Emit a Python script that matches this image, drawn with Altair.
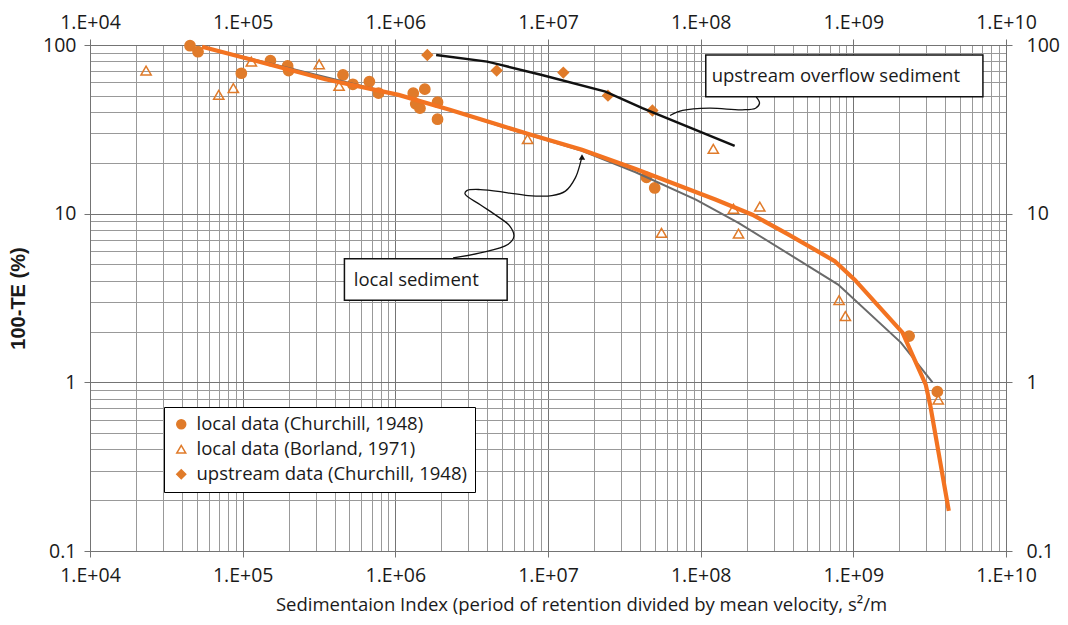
import altair as alt
import pandas as pd

# ---------------- data ----------------
series_names = [
    "local data (Churchill, 1948)",
    "local data (Borland, 1971)",
    "upstream data (Churchill, 1948)",
]

churchill_x = [45200, 51000, 98000, 152000, 197000, 200000, 454000, 527000, 676000, 776000,
               1.31e6, 1.56e6, 1.36e6, 1.45e6, 1.89e6, 1.89e6, 4.42e7, 5.0e7, 2.32e9, 3.55e9]
churchill_y = [99, 91.2, 68, 80.7, 75.2, 70.5, 66.4, 58.5, 60.7, 51.8,
               51.8, 54.7, 44.8, 42.2, 45.8, 36.3, 16.4, 14.2, 1.88, 0.88]

borland_x = [23300, 69700, 86900, 114000, 317000, 428000, 7.35e6, 1.21e8, 1.64e8, 2.44e8,
             5.54e7, 1.77e8, 8.07e8, 8.87e8, 3.6e9]
borland_y = [70.5, 50.6, 55.5, 79.7, 76.9, 57.2, 27.7, 24.2, 10.7, 11.0,
             7.69, 7.62, 3.07, 2.47, 0.79]

upstream_x = [1.62e6, 4.61e6, 1.26e7, 2.47e7, 4.83e7]
upstream_y = [87.3, 70.5, 68.6, 50.1, 40.9]

# fitted curves
local_fit_x = [5.42e4, 3.48e5, 1.05e6, 2.27e6, 4.91e6, 7.35e6, 1.67e7, 3.75e7, 1.26e8, 2.18e8,
               3.77e8, 7.56e8, 1.02e9, 2.1e9, 2.98e9, 3.2e9, 4.22e9]
local_fit_y = [97.7, 62.7, 50.6, 41.3, 33.3, 29.8, 23.9, 18.4, 12.1, 9.86,
               7.51, 5.23, 4.06, 1.97, 0.97, 0.72, 0.173]

local_alt_x = [5.42e4, 1.05e6, 2.27e6, 4.91e6, 1.67e7, 3.75e7, 9.3e7, 1.78e8, 7.95e8, 2.05e9, 3.3e9]
local_alt_y = [97.7, 50.6, 41.3, 33.0, 23.6, 17.6, 12.1, 8.8, 3.8, 1.72, 1.0]

overflow_x = [1.85e6, 4.0e6, 4.91e6, 9.12e6, 2.38e7, 4.15e7, 1.67e8]
overflow_y = [87.3, 79.7, 76.2, 66.4, 52.9, 42.2, 25.2]

# annotations (in data coordinates)
ann_text = ["upstream overflow sediment", "local sediment"]
ann_text_x = [1.18e8, 5.34e5]
ann_text_y = [65.6, 4.06]
ann_box_x1 = [1.08e8, 4.64e5]
ann_box_x2 = [7.06e9, 5.4e6]
ann_box_y1 = [87.3, 5.4]
ann_box_y2 = [49.4, 3.07]

up_conn_x = [6.3e7, 7.62e7, 1.14e8, 1.87e8, 2.29e8, 2.43e8, 2.31e8]
up_conn_y = [38.2, 40.9, 42.2, 41.3, 42.2, 45.2, 49.3]

loc_conn_x = [2.39e6, 3.6e6, 5.45e6, 5.98e6, 5.59e6, 4.67e6, 3.6e6, 2.86e6, 2.94e6, 3.6e6,
              5.45e6, 7.41e6, 1.06e7, 1.3e7, 1.51e7, 1.63e7, 1.67e7]
loc_conn_y = [5.47, 5.85, 6.56, 7.35, 8.49, 9.64, 11.3, 13.1, 13.7, 13.9,
              13.3, 12.8, 12.8, 13.6, 16.3, 20.0, 22.0]

arrow_x = [1.67e7]
arrow_y = [21.7]

# tick labels
x_major = [10 ** k for k in range(4, 11)]
x_tick_labels = ["1.E+04", "1.E+05", "1.E+06", "1.E+07", "1.E+08", "1.E+09", "1.E+10"]
y_major = [0.1, 1, 10, 100]
y_tick_labels = ["0.1", "1", "10", "100"]

x_title = "Sedimentaion Index (period of retention divided by mean velocity, s\u00b2/m"
y_title = "100-TE (%)"

# ---------------- helpers ----------------
x_all = [m * 10 ** k for k in range(4, 10) for m in range(1, 10)] + [10 ** 10]
y_all = [m / 10 for m in range(1, 10)] + [m for m in range(1, 10)] + \
        [m * 10 for m in range(1, 10)] + [100]


def label_expr(values, labels):
    expr = "''"
    for v, l in reversed(list(zip(values, labels))):
        expr = f"datum.value == {v} ? '{l}' : ({expr})"
    return expr


def major_test(values):
    return "indexof([" + ",".join(str(v) for v in values) + "], datum.value) >= 0"


x_lab = label_expr(x_major, x_tick_labels)
y_lab = label_expr(y_major, y_tick_labels)
x_test = major_test(x_major)
y_test = major_test(y_major)

GRID_MAJOR = "#747474"
GRID_MINOR = "#999999"
TXT = "#1a1a1a"
FONT = "Open Sans"
W, H = 916, 506

sx = alt.Scale(type="log", domain=[1e4, 1e10], nice=False)
sy = alt.Scale(type="log", domain=[0.1, 100], nice=False)

common_axis = dict(
    domain=True, domainColor=GRID_MAJOR, domainWidth=1,
    tickColor=GRID_MAJOR, tickWidth=1, tickSize=6,
    labelFont=FONT, labelFontSize=19.5, labelColor=TXT,
    labelOverlap=False, labelFlush=False,
)

ax_bottom = alt.Axis(
    orient="bottom", values=x_all, grid=True,
    gridColor={"condition": {"test": x_test, "value": GRID_MAJOR}, "value": GRID_MINOR},
    gridWidth=1,
    tickOpacity={"condition": {"test": x_test, "value": 1}, "value": 0},
    labelExpr=x_lab, labelPadding=9,
    title=x_title, titleFont=FONT, titleFontSize=18.5, titleFontWeight="normal",
    titleColor=TXT, titlePadding=11, titleX=W / 2 + 33, **common_axis)

ax_top = alt.Axis(
    orient="top", values=x_major, grid=False, labelExpr=x_lab, labelPadding=7,
    title=None, **common_axis)

ax_left = alt.Axis(
    orient="left", values=y_all, grid=True,
    gridColor={"condition": {"test": y_test, "value": GRID_MAJOR}, "value": GRID_MINOR},
    gridWidth=1,
    tickOpacity={"condition": {"test": y_test, "value": 1}, "value": 0},
    labelExpr=y_lab, labelPadding=8,
    title=y_title, titleFont="Liberation Sans", titleFontSize=20, titleFontWeight="bold",
    titleColor=TXT, titlePadding=14, **common_axis)

ax_right = alt.Axis(
    orient="right", values=y_major, grid=False, labelExpr=y_lab, labelPadding=14,
    title=None, **common_axis)

# ---------------- tables ----------------
pts = pd.DataFrame({
    "x": churchill_x + borland_x + upstream_x,
    "y": churchill_y + borland_y + upstream_y,
    "series": [series_names[0]] * len(churchill_x)
    + [series_names[1]] * len(borland_x)
    + [series_names[2]] * len(upstream_x),
})


def path_df(xs, ys):
    return pd.DataFrame({"x": xs, "y": ys, "i": list(range(len(xs)))})


fit_df = path_df(local_fit_x, local_fit_y)
alt_df = path_df(local_alt_x, local_alt_y)
over_df = path_df(overflow_x, overflow_y)
upc_df = path_df(up_conn_x, up_conn_y)
locc_df = path_df(loc_conn_x, loc_conn_y)
arrow_df = pd.DataFrame({"x": arrow_x, "y": arrow_y})
box_df = pd.DataFrame({"x": ann_box_x1, "x2": ann_box_x2, "y": ann_box_y1, "y2": ann_box_y2})
txt_df = pd.DataFrame({"x": ann_text_x, "y": ann_text_y, "t": ann_text})

ORANGE_PT = "#E07B2A"


def make_legend():
    return alt.Legend(title=None, orient="none", legendX=74, legendY=362,
                      fillColor="white", strokeColor="#000000", padding=8,
                      rowPadding=6, labelFont=FONT, labelFontSize=18.5,
                      labelColor=TXT, labelLimit=400, labelOffset=6,
                      symbolStrokeWidth=1.5, symbolSize=80)


# ---------------- layers ----------------
points = alt.Chart(pts).mark_point(filled=True, opacity=1, strokeWidth=1.5, size=105).encode(
    x=alt.X("x:Q", scale=sx, axis=ax_bottom),
    y=alt.Y("y:Q", scale=sy, axis=ax_left),
    shape=alt.Shape("series:N", scale=alt.Scale(domain=series_names,
                                                range=["circle", "triangle-up", "diamond"]),
                    legend=make_legend()),
    fill=alt.Fill("series:N", scale=alt.Scale(domain=series_names,
                                              range=[ORANGE_PT, "transparent", ORANGE_PT]),
                  legend=make_legend()),
    stroke=alt.Stroke("series:N", scale=alt.Scale(domain=series_names,
                                                  range=[ORANGE_PT, ORANGE_PT, ORANGE_PT]),
                      legend=make_legend()),
)

gray_line = alt.Chart(alt_df).mark_line(color="#6a6a6a", strokeWidth=2).encode(
    x=alt.X("x:Q", scale=sx, axis=ax_top),
    y=alt.Y("y:Q", scale=sy, axis=ax_right),
    order="i:Q",
)

orange_line = alt.Chart(fit_df).mark_line(color="#F37321", strokeWidth=4.2).encode(
    x=alt.X("x:Q", scale=sx, axis=None),
    y=alt.Y("y:Q", scale=sy, axis=None),
    order="i:Q",
)

black_line = alt.Chart(over_df).mark_line(color="#111111", strokeWidth=2.5).encode(
    x=alt.X("x:Q", scale=sx, axis=None),
    y=alt.Y("y:Q", scale=sy, axis=None),
    order="i:Q",
)

up_conn = alt.Chart(upc_df).mark_line(color="#111111", strokeWidth=1.3,
                                      interpolate="catmull-rom").encode(
    x=alt.X("x:Q", scale=sx, axis=None),
    y=alt.Y("y:Q", scale=sy, axis=None),
    order="i:Q",
)

loc_conn = alt.Chart(locc_df).mark_line(color="#111111", strokeWidth=1.3,
                                        interpolate="catmull-rom").encode(
    x=alt.X("x:Q", scale=sx, axis=None),
    y=alt.Y("y:Q", scale=sy, axis=None),
    order="i:Q",
)

arrow = alt.Chart(arrow_df).mark_point(shape="triangle-up", filled=True, color="#111111",
                                       opacity=1, size=40).encode(
    x=alt.X("x:Q", scale=sx, axis=None),
    y=alt.Y("y:Q", scale=sy, axis=None),
)

boxes = alt.Chart(box_df).mark_rect(fill="white", stroke="#111111", strokeWidth=1.5).encode(
    x=alt.X("x:Q", scale=sx, axis=None),
    x2="x2:Q",
    y=alt.Y("y:Q", scale=sy, axis=None),
    y2="y2:Q",
)

texts = alt.Chart(txt_df).mark_text(align="left", baseline="middle", font=FONT,
                                    fontSize=18.5, color=TXT).encode(
    x=alt.X("x:Q", scale=sx, axis=None),
    y=alt.Y("y:Q", scale=sy, axis=None),
    text="t:N",
)

chart = alt.layer(
    points, gray_line, orange_line, black_line, up_conn, loc_conn, arrow, boxes, texts
).resolve_axis(
    x="independent", y="independent"
).properties(
    width=W, height=H,
    padding={"left": 82, "top": 37, "right": 54, "bottom": 70},
    autosize=alt.AutoSizeParams(type="none"),
).configure_view(stroke=GRID_MAJOR)

chart.save("out.html", embed_options={"renderer": "svg", "actions": False})
